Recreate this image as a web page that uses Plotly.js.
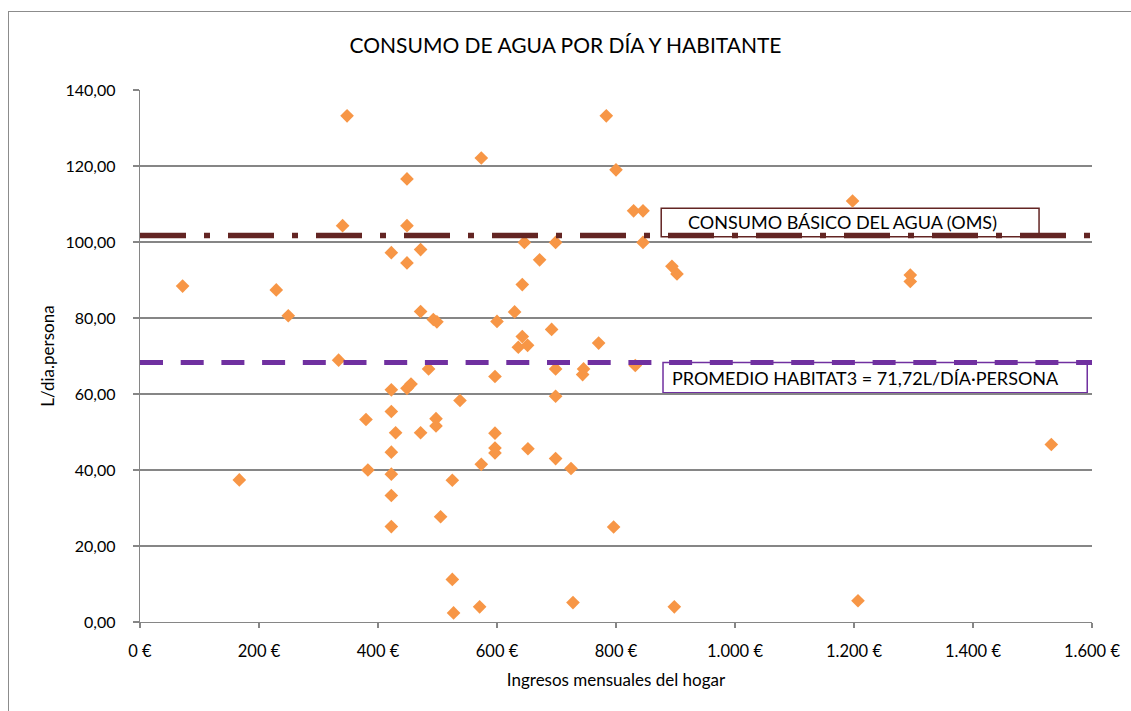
<!DOCTYPE html>
<html>
<head>
<meta charset="utf-8">
<script src="https://cdn.plot.ly/plotly-3.0.1.min.js"></script>
<style>
  html, body { margin: 0; padding: 0; background: #ffffff; overflow: hidden; }
  #wrap { position: relative; width: 1131px; height: 711px; overflow: hidden; }
  #frame { position: absolute; left: 8px; top: 11px; width: 1300px; height: 900px; border: 1px solid #8c8c8c; box-sizing: border-box; pointer-events: none; z-index: 5; }
  #chart { position: absolute; left: 0; top: 0; width: 1131px; height: 711px; }
</style>
</head>
<body>
<div id="wrap">
  <div id="chart"></div>
  <div id="frame"></div>
</div>
<script>
// ---- Data ----
const ingresos = [
  71.6, 166.9, 229, 249.2, 333.8, 340.5, 348, 379.8, 383,
  422.4, 422.4, 422.4, 422.4, 422.4, 422.4, 422.4, 429.6,
  448.7, 448.7, 448.7, 448.7, 455.5, 471.6, 471.6, 471.6, 485,
  493, 499, 497.5, 497.5, 505.2, 524.9, 524.9, 527, 537.8,
  570.8, 573.6, 573.6, 596.6, 596.6, 596.6, 596.6, 600,
  629.6, 635.8, 642.5, 642.5, 646, 651.4, 652, 671.6, 691.8,
  698.5, 698.5, 698.5, 698.5, 724.4, 727.7, 743.9, 745.5, 770.8,
  783.7, 796, 800, 829.6, 832.4, 845.4, 845.4, 894, 898, 902.5,
  1197.6, 1206.7, 1294.6, 1294.6, 1531.6
];
const consumo = [
  88.4, 37.4, 87.4, 80.6, 68.9, 104.3, 133.2, 53.3, 40.0,
  97.2, 61.1, 55.4, 44.7, 38.9, 33.3, 25.1, 49.8,
  116.6, 104.3, 94.5, 61.5, 62.6, 98.0, 81.7, 49.8, 66.6,
  79.6, 79.0, 53.5, 51.6, 27.7, 37.3, 11.2, 2.4, 58.3,
  4.0, 41.5, 122.1, 64.6, 49.7, 45.8, 44.5, 79.1,
  81.6, 72.3, 88.8, 75.1, 99.9, 72.8, 45.6, 95.3, 77.0,
  99.9, 66.6, 59.4, 43.0, 40.4, 5.1, 65.1, 66.6, 73.4,
  133.2, 25.0, 119.0, 108.2, 67.5, 108.2, 99.9, 93.6, 4.0, 91.6,
  110.8, 5.6, 91.3, 89.6, 46.7
];
const lineX = [0, 1600];
const omsLevel = 101.7;
const promedioLevel = 68.3;

const yTickVals = [0, 20, 40, 60, 80, 100, 120, 140];
const yTickText = ["0,00", "20,00", "40,00", "60,00", "80,00", "100,00", "120,00", "140,00"];
const xTickVals = [0, 200, 400, 600, 800, 1000, 1200, 1400, 1600];
const xTickText = ["0 €", "200 €", "400 €", "600 €", "800 €", "1.000 €", "1.200 €", "1.400 €", "1.600 €"];

const titleText = "CONSUMO DE AGUA POR DÍA Y HABITANTE";
const xTitle = "Ingresos mensuales del hogar";
const yTitle = "L/dia.persona";
const omsLabel = "CONSUMO BÁSICO DEL AGUA (OMS)";
const promedioLabel = "PROMEDIO HABITAT3 = 71,72L/DÍA·PERSONA";

const FONT = "Lato, 'Open Sans', sans-serif";
const GRID = "#868686";

const traces = [
  {
    x: ingresos, y: consumo, type: "scatter", mode: "markers",
    marker: { symbol: "diamond", size: 10.5, color: "#F79646", line: { width: 0 } },
    showlegend: false, hoverinfo: "skip"
  },
  {
    x: lineX, y: [omsLevel, omsLevel], type: "scatter", mode: "lines",
    line: { color: "#632523", width: 5.5, dash: "46px,18px,6px,18px" },
    showlegend: false, hoverinfo: "skip"
  },
  {
    x: lineX, y: [promedioLevel, promedioLevel], type: "scatter", mode: "lines",
    line: { color: "#7030A0", width: 5, dash: "23px,17.7px" },
    showlegend: false, hoverinfo: "skip"
  }
];

const layout = {
  width: 1131, height: 711,
  margin: { l: 140, r: 39, t: 90, b: 89, pad: 0 },
  paper_bgcolor: "rgba(0,0,0,0)", plot_bgcolor: "#ffffff",
  font: { family: FONT, color: "#000000", size: 16 },
  showlegend: false,
  hovermode: false,
  title: {
    text: titleText, font: { family: FONT, size: 21, color: "#000000" },
    xref: "container", x: 0.5, xanchor: "center",
    yref: "container", y: 1 - 46 / 711, yanchor: "middle"
  },
  xaxis: {
    range: [0, 1600], tickvals: xTickVals, ticktext: xTickText,
    showgrid: false, zeroline: false,
    showline: true, linecolor: GRID, linewidth: 1.3,
    ticks: "outside", ticklen: 5, tickcolor: GRID, tickwidth: 1.3,
    tickfont: { family: FONT, size: 16.5, color: "#000000" },
    ticklabelstandoff: 9,
    title: { text: xTitle, font: { family: FONT, size: 17, color: "#000000" }, standoff: 14 },
    automargin: false, fixedrange: true
  },
  yaxis: {
    range: [0, 140], tickvals: yTickVals, ticktext: yTickText,
    showgrid: true, gridcolor: GRID, gridwidth: 1.3, zeroline: false,
    showline: true, linecolor: GRID, linewidth: 1.3,
    ticks: "outside", ticklen: 6, tickcolor: GRID, tickwidth: 1.3,
    tickfont: { family: FONT, size: 16, color: "#000000" },
    ticklabelstandoff: 14,
    title: { text: yTitle, font: { family: FONT, size: 17, color: "#000000" }, standoff: 6 },
    automargin: false, fixedrange: true
  },
  shapes: [
    { type: "rect", xref: "x", yref: "y", x0: 876, x1: 1511, y0: 101.4, y1: 108.9,
      line: { color: "#632523", width: 1.5 }, fillcolor: "#ffffff", layer: "below" },
    { type: "rect", xref: "x", yref: "y", x0: 879, x1: 1592, y0: 60.3, y1: 68.3,
      line: { color: "#7030A0", width: 1.5 }, fillcolor: "#ffffff", layer: "below" }
  ],
  annotations: [
    { text: omsLabel, xref: "x", yref: "y", x: 918, y: 105.3, xanchor: "left", yanchor: "middle",
      showarrow: false, font: { family: FONT, size: 18, color: "#000000" } },
    { text: promedioLabel, xref: "x", yref: "y", x: 891.3, y: 64.2, xanchor: "left", yanchor: "middle",
      showarrow: false, font: { family: FONT, size: 18, color: "#000000" } }
  ]
};

Plotly.newPlot("chart", traces, layout, { staticPlot: true, displayModeBar: false });
</script>
</body>
</html>
